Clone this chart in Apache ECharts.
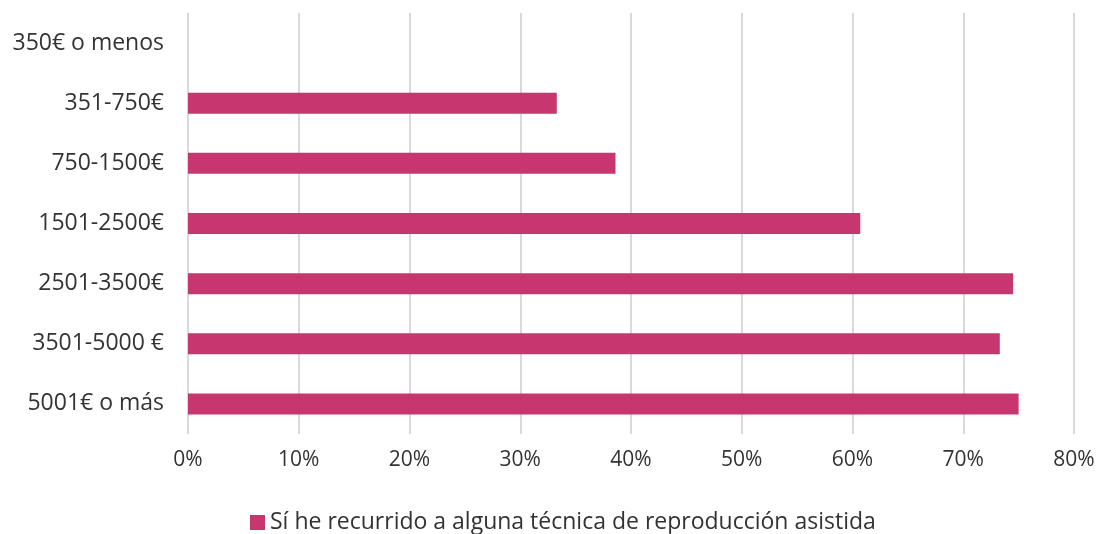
<!DOCTYPE html>
<html>
<head>
<meta charset="utf-8">
<script src="https://cdn.jsdelivr.net/npm/echarts@6/dist/echarts.min.js"></script>
<style>
  html, body { margin: 0; padding: 0; background: #fff; }
  #chart { width: 1100px; height: 534px; }
</style>
</head>
<body>
<div id="chart"></div>
<script>
// categories from bottom to top (category axis on y starts at the bottom)
const categories = ['5001€ o más', '3501-5000 €', '2501-3500€', '1501-2500€', '750-1500€', '351-750€', '350€ o menos'];
const values = [75.0, 73.3, 74.5, 60.7, 38.6, 33.3, null];
const seriesName = 'Sí he recurrido a alguna técnica de reproducción asistida';

const chart = echarts.init(document.getElementById('chart'));
const font = '"Open Sans", sans-serif';

chart.setOption({
  animation: false,
  textStyle: { fontFamily: font },
  grid: { left: 188, right: 26, top: 13, bottom: 100 },
  legend: {
    data: [seriesName],
    bottom: -5,
    left: 245,
    icon: 'rect',
    itemWidth: 15,
    itemHeight: 15,
    itemGap: 5,
    textStyle: { fontSize: 23, color: '#333', fontFamily: font }
  },
  xAxis: {
    type: 'value',
    min: 0,
    max: 80,
    interval: 10,
    axisLine: { show: false },
    axisTick: { show: false },
    axisLabel: {
      formatter: '{value}%',
      fontSize: 21,
      color: '#333',
      margin: 16,
      fontFamily: font
    },
    splitLine: { lineStyle: { color: '#d9d9d9', width: 2 } }
  },
  yAxis: {
    type: 'category',
    data: categories,
    axisLine: { show: false },
    axisTick: { show: false },
    axisLabel: { fontSize: 23, color: '#333', margin: 24, fontFamily: font }
  },
  series: [{
    name: seriesName,
    type: 'bar',
    data: values,
    barWidth: 21,
    itemStyle: { color: '#c8366f' }
  }]
});
</script>
</body>
</html>
